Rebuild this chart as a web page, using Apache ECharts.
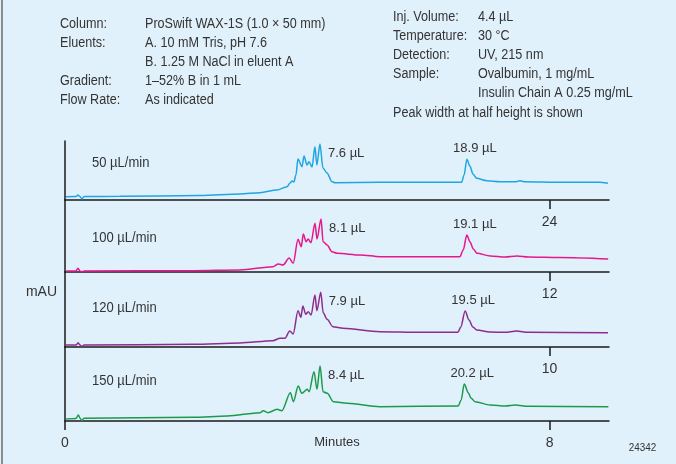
<!DOCTYPE html>
<html>
<head>
<meta charset="utf-8">
<script src="https://cdn.jsdelivr.net/npm/echarts@6/dist/echarts.min.js"></script>
<style>
  html, body { margin: 0; padding: 0; background: #e1f1fb; }
  #chart { width: 676px; height: 464px; }
</style>
</head>
<body>
<div id="chart"></div>
<script>
// Flow rates, one chromatogram per panel (top to bottom)
const flowRates = ['50 µL/min', '100 µL/min', '120 µL/min', '150 µL/min'];
// Minutes at which 1.2 mL has eluted for each flow rate
const tickMinutes = [24, 12, 10, 8];
// Time window shown in each panel (minutes)
const axisMaxMinutes = [26.95, 13.47, 11.23, 8.98];
// Peak widths at half height
const mainPeakWidths = ['7.6 µL', '8.1 µL', '7.9 µL', '8.4 µL'];
const latePeakWidths = ['18.9 µL', '19.1 µL', '19.5 µL', '20.2 µL'];

// Chromatograms: [minutes, mAU]
const trace50 = [
  [0.05, 3.3], [0.55, 3.5], [0.64, 5.0], [0.74, 3.5], [0.84, 1.0], [0.94, 3.5],
  [2.72, 3.7], [6.69, 4.5], [8.67, 6.0], [9.66, 7.3], [10.50, 10.0], [11.00, 13.3],
  [11.15, 17.0], [11.25, 19.0], [11.34, 18.0], [11.44, 25.0], [11.54, 41.0], [11.74, 33.3],
  [11.84, 44.0], [11.99, 35.0], [12.09, 38.3], [12.24, 33.0], [12.38, 53.3], [12.48, 35.0],
  [12.63, 56.0], [12.78, 32.0], [12.98, 27.0], [13.23, 18.3], [13.38, 17.3], [15.60, 17.7],
  [17.59, 17.7], [19.65, 17.7], [19.77, 25.0], [19.91, 40.7], [20.06, 34.0], [20.21, 26.0],
  [20.39, 21.7], [20.89, 19.3], [21.55, 18.3], [22.34, 18.3], [22.54, 19.2], [22.74, 18.3],
  [24.52, 17.7], [26.50, 17.7], [26.75, 17.2], [26.90, 16.7]
];
const trace100 = [
  [0.03, 1.0], [0.27, 1.0], [0.32, 3.7], [0.37, 1.0], [0.42, 0.3], [0.47, 1.0],
  [3.17, 1.3], [4.33, 2.0], [5.15, 5.3], [5.28, 8.0], [5.40, 7.0], [5.55, 14.0],
  [5.65, 8.7], [5.77, 32.7], [5.85, 25.3], [5.90, 38.0], [5.97, 30.3], [6.02, 33.0],
  [6.09, 29.3], [6.19, 48.7], [6.24, 33.0], [6.34, 53.0], [6.39, 30.3], [6.49, 27.0],
  [6.61, 20.3], [6.74, 18.7], [7.31, 17.0], [7.80, 15.3], [8.79, 15.3], [9.78, 15.3],
  [9.86, 22.0], [9.95, 37.0], [10.03, 30.0], [10.11, 23.0], [10.20, 18.7], [10.53, 16.0],
  [10.90, 15.0], [11.19, 16.0], [11.47, 15.0], [12.26, 14.5], [13.45, 13.0]
];
const trace120 = [
  [0.02, 2.0], [0.23, 2.0], [0.27, 4.3], [0.31, 2.0], [0.35, 0.5], [0.39, 2.0],
  [2.64, 2.7], [3.61, 4.0], [4.29, 6.3], [4.44, 8.7], [4.54, 8.7], [4.64, 16.0],
  [4.71, 13.0], [4.81, 36.3], [4.87, 29.7], [4.91, 41.0], [4.97, 32.7], [5.02, 35.3],
  [5.08, 32.0], [5.16, 52.0], [5.20, 36.3], [5.28, 54.7], [5.33, 34.3], [5.41, 27.7],
  [5.53, 20.3], [5.74, 18.7], [6.50, 15.3], [7.33, 14.7], [8.11, 14.7], [8.17, 20.0],
  [8.26, 36.0], [8.34, 27.0], [8.42, 20.0], [8.50, 17.0], [8.77, 15.0], [9.08, 14.7],
  [9.32, 16.0], [9.56, 14.7], [11.21, 14.3]
];
const trace150 = [
  [0.02, 2.0], [0.18, 2.5], [0.22, 6.0], [0.25, 2.7], [0.28, 0.3], [0.31, 2.7],
  [2.11, 3.7], [2.68, 5.0], [3.22, 8.3], [3.27, 10.3], [3.35, 8.3], [3.50, 11.7],
  [3.58, 10.3], [3.72, 28.3], [3.77, 19.3], [3.85, 35.0], [3.91, 27.7], [4.00, 31.7],
  [4.03, 29.3], [4.11, 49.3], [4.16, 31.7], [4.21, 55.0], [4.26, 29.3], [4.33, 27.7],
  [4.43, 19.3], [4.66, 17.7], [5.20, 14.3], [6.49, 15.0], [6.54, 21.0], [6.59, 37.0],
  [6.66, 28.0], [6.70, 23.0], [6.77, 19.3], [7.02, 16.0], [7.27, 15.0], [7.43, 16.0],
  [7.65, 14.7], [8.97, 14.3]
];
const traces = [trace50, trace100, trace120, trace150];

const colors = ['#1fa6e2', '#e5178b', '#8e2b8e', '#1b9a4c'];
const FONT = '"Liberation Sans", Arial, Helvetica, sans-serif';
const TEXT = '#333333';
const AXIS = '#1a1a1a';

// Panel geometry: plot area tops and heights (pixels)
const panelTop = [141, 200, 272, 347];
const panelHeight = [59, 72, 75, 74];
const flowLabelY = [163, 238, 308, 381];

function peakIndex(data, fromT, toT) {
  let best = -1;
  data.forEach((p, i) => {
    if (p[0] >= fromT && p[0] <= toT && (best < 0 || p[1] > data[best][1])) best = i;
  });
  return best;
}

const labelFont = { color: TEXT, fontFamily: FONT, fontSize: 13 };
const grid = [], xAxis = [], yAxis = [], series = [];
traces.forEach((data, i) => {
  grid.push({ left: 65, right: 67, top: panelTop[i], height: panelHeight[i] });
  const last = i === traces.length - 1;
  const ticks = last ? [0, tickMinutes[i]] : [tickMinutes[i]];
  xAxis.push({
    gridIndex: i, type: 'value', min: 0, max: axisMaxMinutes[i],
    axisLine: { show: true, onZero: false, lineStyle: { color: AXIS, width: 1.5 } },
    axisTick: { show: true, customValues: ticks, length: 9, lineStyle: { color: AXIS, width: 1.5 } },
    axisLabel: Object.assign({ show: true, customValues: ticks, margin: 15 }, labelFont, { fontSize: 14 }),
    splitLine: { show: false },
    name: last ? 'Minutes' : '', nameLocation: 'middle', nameGap: 15, nameMoveOverlap: false,
    nameTextStyle: labelFont
  });
  yAxis.push({
    gridIndex: i, type: 'value', min: 0, max: panelHeight[i],
    axisLine: { show: true, lineStyle: { color: AXIS, width: 1.5 } },
    axisTick: { show: false }, axisLabel: { show: false }, splitLine: { show: false }
  });
  const half = axisMaxMinutes[i] * 0.6;
  const mainIdx = peakIndex(data, 0, half);
  const lateIdx = peakIndex(data, half, axisMaxMinutes[i]);
  series.push({
    type: 'line', xAxisIndex: i, yAxisIndex: i, data: data,
    showSymbol: false, smooth: 0.3, smoothMonotone: 'x',
    lineStyle: { color: colors[i], width: 1.5 },
    itemStyle: { color: colors[i] },
    silent: true,
    markPoint: {
      symbol: 'circle', symbolSize: 1, itemStyle: { color: 'rgba(0,0,0,0)' },
      silent: true, animation: false,
      data: [
        { coord: data[mainIdx], value: mainPeakWidths[i],
          label: Object.assign({ show: true, position: 'inside', align: 'left', offset: [8, 9],
                   formatter: mainPeakWidths[i] }, labelFont) },
        { coord: data[lateIdx], value: latePeakWidths[i],
          label: Object.assign({ show: true, position: 'inside', align: 'center', offset: [8, -10.5],
                   formatter: latePeakWidths[i] }, labelFont) }
      ]
    }
  });
});

// Method conditions printed above the chromatograms
const leftKeys = ['Column:', 'Eluents:', '', 'Gradient:', 'Flow Rate:'];
const leftVals = ['ProSwift WAX-1S (1.0 × 50 mm)', 'A. 10 mM Tris, pH 7.6', 'B. 1.25 M NaCl in eluent A', '1–52% B in 1 mL', 'As indicated'];
const rightKeys = ['Inj. Volume:', 'Temperature:', 'Detection:', 'Sample:', '', 'Peak width at half height is shown'];
const rightVals = ['4.4 µL', '30 °C', 'UV, 215 nm', 'Ovalbumin, 1 mg/mL', 'Insulin Chain A 0.25 mg/mL', ''];

// Condensed-looking text: 14px face squeezed horizontally
function txt(x, y, s, opts, squeeze) {
  return {
    type: 'text', x: x, y: y, silent: true, scaleX: squeeze == null ? 0.9 : squeeze,
    style: Object.assign({ text: s, fill: TEXT, font: '14px ' + FONT, verticalAlign: 'middle', align: 'left' }, opts || {})
  };
}

const graphic = [];
graphic.push({ type: 'line', silent: true, shape: { x1: 2, y1: 0, x2: 2, y2: 464 }, style: { stroke: '#6b6b6b', lineWidth: 1.5 } });
leftKeys.forEach((s, i) => { if (s) graphic.push(txt(60, 24 + 19 * i, s)); });
leftVals.forEach((s, i) => graphic.push(txt(145, 24 + 19 * i, s)));
rightKeys.forEach((s, i) => { if (s) graphic.push(txt(393, 16.7 + 19.2 * i, s)); });
rightVals.forEach((s, i) => { if (s) graphic.push(txt(478, 16.7 + 19.2 * i, s)); });
flowRates.forEach((s, i) => graphic.push(txt(92, flowLabelY[i], s, null, 0.93)));
graphic.push(txt(41.5, 292, 'mAU', { align: 'center' }, 1));
graphic.push(txt(642.5, 448, '24342', { font: '11px ' + FONT, align: 'center' }, 0.9));

const chart = echarts.init(document.getElementById('chart'), null, { renderer: 'canvas' });
chart.setOption({
  backgroundColor: '#e1f1fb',
  animation: false,
  grid: grid, xAxis: xAxis, yAxis: yAxis, series: series,
  graphic: graphic
});
</script>
</body>
</html>
